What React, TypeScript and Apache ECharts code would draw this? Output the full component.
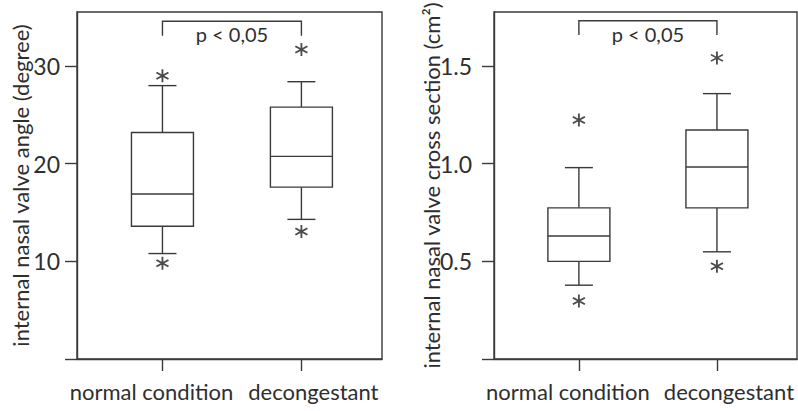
import React, { useEffect, useRef } from "react";
import * as echarts from "echarts";

// ---- data ----
const categories = ["normal condition", "decongestant"];
const categoryPositions = [1, 2];

// left panel: internal nasal valve angle (degree) — [min, Q1, median, Q3, max]
const angleStats = [
  [10.8, 13.6, 16.9, 23.2, 28.0],
  [14.3, 17.6, 20.75, 25.8, 28.4],
];
const angleOutliers = [
  [1, 29.0],
  [1, 9.8],
  [2, 31.7],
  [2, 13.05],
];
const angleTickValues = [0, 10, 20, 30];
const angleLabelValues = [10, 20, 30];
const angleMax = 35.54;
const angleBracket = [34.6, 33.1]; // top, leg end

// right panel: internal nasal valve cross section (cm²)
const areaStats = [
  [0.378, 0.5, 0.63, 0.774, 0.98],
  [0.549, 0.774, 0.983, 1.173, 1.359],
];
const areaOutliers = [
  [1, 1.224],
  [1, 0.297],
  [2, 1.542],
  [2, 0.475],
];
const areaTickValues = [0, 0.5, 1.0, 1.5];
const areaLabelValues = [0.5, 1.0, 1.5];
const areaMax = 1.777;
const areaBracket = [1.732, 1.659];

const pLabel = "p < 0,05";
const angleTitle = "internal nasal valve angle (degree)";
const areaTitle = "internal nasal valve cross section (cm²)";

// ---- styles ----
const LINE = "#3a3a3a";
const TEXT = "#2e2e2e";
const FONT = "Lato";
const LABEL_SHIFT = [-11, 12]; // horizontal nudge of category labels (px)

const starPath =
  "path://M-0.13,-1 L0.13,-1 L0.13,1 L-0.13,1 Z M0.79,-0.613 L0.93,-0.387 L-0.79,0.613 L-0.93,0.387 Z M0.93,0.387 L0.79,0.613 L-0.93,-0.387 L-0.79,-0.613 Z";

function boxRender(params: any, api: any) {
  const x = api.value(0);
  const lo = api.coord([x, api.value(1)]);
  const q1 = api.coord([x, api.value(2)]);
  const md = api.coord([x, api.value(3)]);
  const q3 = api.coord([x, api.value(4)]);
  const hi = api.coord([x, api.value(5)]);
  const cx = lo[0];
  const bw = 31;
  const cw = 14;
  const style = { stroke: LINE, lineWidth: 1.4, fill: "none" };
  return {
    type: "group",
    children: [
      { type: "line", shape: { x1: cx, y1: hi[1], x2: cx, y2: q3[1] }, style },
      { type: "line", shape: { x1: cx, y1: q1[1], x2: cx, y2: lo[1] }, style },
      { type: "line", shape: { x1: cx - cw, y1: hi[1], x2: cx + cw, y2: hi[1] }, style },
      { type: "line", shape: { x1: cx - cw, y1: lo[1], x2: cx + cw, y2: lo[1] }, style },
      {
        type: "rect",
        shape: { x: cx - bw, y: q3[1], width: 2 * bw, height: q1[1] - q3[1] },
        style: { ...style, fill: "#fff" },
      },
      { type: "line", shape: { x1: cx - bw, y1: md[1], x2: cx + bw, y2: md[1] }, style },
    ],
  };
}

function bracketRender(params: any, api: any) {
  const x1 = api.value(0);
  const x2 = api.value(1);
  const top = api.value(2);
  const leg = api.value(3);
  const a = api.coord([x1, leg]);
  const b = api.coord([x1, top]);
  const c = api.coord([x2, top]);
  const d = api.coord([x2, leg]);
  return {
    type: "group",
    children: [
      {
        type: "polyline",
        shape: { points: [a, b, c, d] },
        style: { stroke: LINE, lineWidth: 1.4, fill: "none" },
      },
      {
        type: "text",
        style: {
          text: pLabel,
          x: (b[0] + c[0]) / 2,
          y: b[1] + 3,
          align: "center",
          verticalAlign: "top",
          fill: TEXT,
          fontSize: 20,
          fontFamily: FONT,
        },
      },
    ],
  };
}

function categoryLabelRender(params: any, api: any) {
  const i = params.dataIndex;
  const p = api.coord([api.value(0), 0]);
  return {
    type: "text",
    style: {
      text: categories[i],
      x: p[0] + LABEL_SHIFT[i],
      y: p[1] + 21,
      align: "center",
      verticalAlign: "top",
      fill: TEXT,
      fontSize: 22,
      fontFamily: FONT,
    },
  };
}

function makeXAxis(gridIndex: number) {
  return {
    type: "value",
    gridIndex,
    min: 0.385,
    max: 2.58,
    splitLine: { show: false },
    axisLine: { show: true, lineStyle: { color: LINE, width: 1.4 } },
    axisTick: {
      show: true,
      length: 12,
      customValues: [...categoryPositions],
      lineStyle: { color: LINE, width: 1.4 },
    },
    axisLabel: { show: false },
  };
}

function makeYAxis(
  gridIndex: number,
  max: number,
  ticks: number[],
  labels: number[],
  name: string,
  nameGap: number,
  labelMargin: number,
  fmt: (v: number) => string
) {
  return {
    type: "value",
    gridIndex,
    min: 0,
    max,
    name,
    nameLocation: "middle",
    nameGap,
    nameMoveOverlap: false,
    nameTextStyle: { fontSize: 22, fontFamily: FONT, color: TEXT },
    splitLine: { show: false },
    axisLine: { show: true, lineStyle: { color: LINE, width: 1.4 } },
    axisTick: {
      show: true,
      length: 12,
      customValues: ticks,
      lineStyle: { color: LINE, width: 1.4 },
    },
    axisLabel: {
      customValues: labels,
      formatter: fmt,
      margin: labelMargin,
      fontSize: 23,
      fontFamily: FONT,
      color: TEXT,
    },
  };
}

export default function App() {
  const ref = useRef<HTMLDivElement>(null);
  useEffect(() => {
    document.body.style.margin = "0";
    if (!ref.current) return;
    const chart = echarts.init(ref.current, null, { renderer: "svg" });
    const boxData = (stats: number[][]) =>
      stats.map((s, i) => [categoryPositions[i], ...s]);
    const labelData = categoryPositions.map((x) => [x, 0]);
    const perPanel = (xi: number, stats: number[][], outliers: number[][], bracket: number[]) => [
      {
        type: "custom",
        xAxisIndex: xi,
        yAxisIndex: xi,
        renderItem: boxRender,
        encode: { x: 0, y: [1, 2, 3, 4, 5] },
        data: boxData(stats),
        silent: true,
      },
      {
        type: "scatter",
        xAxisIndex: xi,
        yAxisIndex: xi,
        symbol: starPath,
        symbolSize: 13,
        itemStyle: { color: "#1e1e1e" },
        data: outliers,
        silent: true,
      },
      {
        type: "custom",
        xAxisIndex: xi,
        yAxisIndex: xi,
        renderItem: bracketRender,
        encode: { x: [0, 1], y: [2, 3] },
        data: [[categoryPositions[0], categoryPositions[1], bracket[0], bracket[1]]],
        silent: true,
      },
      {
        type: "custom",
        xAxisIndex: xi,
        yAxisIndex: xi,
        renderItem: categoryLabelRender,
        encode: { x: 0, y: 1 },
        data: labelData,
        clip: false,
        silent: true,
      },
    ];
    chart.setOption({
      animation: false,
      backgroundColor: "#fff",
      grid: [
        { left: 77, top: 12, width: 305, height: 347, show: true, borderColor: LINE, borderWidth: 1.4 },
        { left: 494, top: 12, width: 303, height: 347, show: true, borderColor: LINE, borderWidth: 1.4 },
      ],
      xAxis: [makeXAxis(0), makeXAxis(1)],
      yAxis: [
        makeYAxis(0, angleMax, angleTickValues, angleLabelValues, angleTitle, 46, 17, (v) => String(Math.round(v))),
        makeYAxis(1, areaMax, areaTickValues, areaLabelValues, areaTitle, 52, 22, (v) => v.toFixed(1)),
      ],
      series: [
        ...perPanel(0, angleStats, angleOutliers, angleBracket),
        ...perPanel(1, areaStats, areaOutliers, areaBracket),
      ],
    });
    return () => chart.dispose();
  }, []);
  return <div ref={ref} style={{ width: 798, height: 411 }} />;
}
